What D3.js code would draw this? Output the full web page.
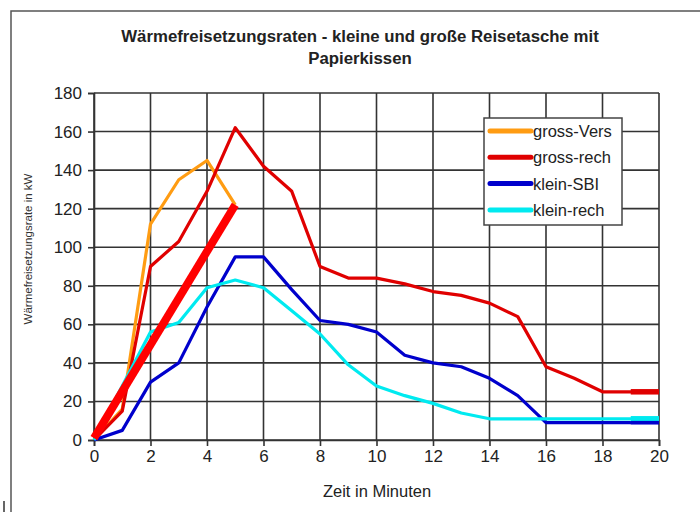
<!DOCTYPE html>
<html><head><meta charset="utf-8">
<script src="https://cdn.jsdelivr.net/npm/d3@7"></script>
<style>body{margin:0;background:#fff}svg{display:block}</style>
</head><body>
<svg id="c" width="700" height="512"></svg>
<script>
const minutes = d3.range(0, 21);
const grossVers = [0, 16, 112, 135, 145, 122];
const grossRech = [0, 15, 90, 103, 129, 162, 142, 129, 90, 84, 84, 81, 77, 75, 71, 64, 38, 32, 25, 25, 25];
const kleinSBI = [0, 5, 30, 40, 69, 95, 95, 78, 62, 60, 56, 44, 40, 38, 32, 23, 9, 9, 9, 9, 9];
const kleinRech = [0, 28, 56, 61, 79, 83, 79, 67, 55, 39, 28, 23, 19, 14, 11, 11, 11, 11, 11, 11, 11];
const trendX = [0, 5];
const trendY = [1, 122];
const xTicks = d3.range(0, 21, 2);
const yTicks = d3.range(0, 181, 20);
const seriesNames = ["gross-Vers", "gross-rech", "klein-SBI", "klein-rech"];
const seriesColors = ["#ff9c12", "#e00000", "#0000cc", "#00eaf0"];

const svg = d3.select("#c");
// outer frame
svg.append("path").attr("d", "M11,512 V11 H700").attr("fill", "none").attr("stroke", "#555").attr("stroke-width", 1.5);
svg.append("line").attr("x1", 4).attr("x2", 4).attr("y1", 501).attr("y2", 512).attr("stroke", "#333").attr("stroke-width", 1.5);

const x = d3.scaleLinear().domain([0, 20]).range([94, 659]);
const y = d3.scaleLinear().domain([0, 180]).range([440, 93]);

const grid = svg.append("g");
grid.selectAll("line.v").data(xTicks).join("line")
  .attr("x1", d => x(d)).attr("x2", d => x(d)).attr("y1", y(180)).attr("y2", y(0))
  .attr("stroke", "#333").attr("stroke-width", 1.6);
grid.selectAll("line.h").data(yTicks).join("line")
  .attr("x1", x(0)).attr("x2", x(20)).attr("y1", d => y(d)).attr("y2", d => y(d))
  .attr("stroke", "#333").attr("stroke-width", 1.6);

const font = "Liberation Sans, Arial, sans-serif";
const xAxis = svg.append("g").attr("transform", `translate(0,${y(0)})`)
  .call(d3.axisBottom(x).tickValues(xTicks).tickSize(6).tickPadding(4));
const yAxis = svg.append("g").attr("transform", `translate(${x(0)},0)`)
  .call(d3.axisLeft(y).tickValues(yTicks).tickSize(6).tickPadding(6));
[xAxis, yAxis].forEach(a => {
  a.select(".domain").attr("stroke", "#333").attr("stroke-width", 1.6);
  a.selectAll(".tick line").attr("stroke", "#333").attr("stroke-width", 1.6);
  a.selectAll(".tick text").attr("font-family", font).attr("font-size", 17).attr("fill", "#222");
});

const line = d3.line().x(d => x(d[0])).y(d => y(d[1]));
const data = [grossVers, grossRech, kleinSBI, kleinRech];
const g = svg.append("g");
data.forEach((vals, i) => {
  const pts = vals.map((v, j) => [minutes[j], v]);
  g.append("path").attr("d", line(pts)).attr("fill", "none")
    .attr("stroke", seriesColors[i]).attr("stroke-width", 3.2).attr("stroke-linejoin", "round");
});
// thicker final segments (as in the original)
[1, 3, 2].forEach(i => {
  const vals = data[i];
  const n = vals.length;
  const pts = [[minutes[n - 2], vals[n - 2]], [minutes[n - 1], vals[n - 1]]];
  g.append("path").attr("d", line(pts)).attr("fill", "none")
    .attr("stroke", seriesColors[i]).attr("stroke-width", i === 2 ? 3.5 : 5.5);
});
// thick trend line
g.append("path").attr("d", line(trendX.map((v, j) => [v, trendY[j]])))
  .attr("fill", "none").attr("stroke", "#ff0000").attr("stroke-width", 8);

// legend
const lg = svg.append("g");
lg.append("rect").attr("x", 484).attr("y", 118).attr("width", 138).attr("height", 107)
  .attr("fill", "#fff").attr("stroke", "#444").attr("stroke-width", 1.5);
seriesNames.forEach((n, i) => {
  const yy = 131 + i * 26.3;
  lg.append("line").attr("x1", 490).attr("x2", 531).attr("y1", yy).attr("y2", yy)
    .attr("stroke", seriesColors[i]).attr("stroke-width", 5).attr("stroke-linecap", "round");
  lg.append("text").attr("x", 533).attr("y", yy + 6).text(n)
    .attr("font-family", font).attr("font-size", 16.5).attr("fill", "#222");
});

// titles
svg.append("text").attr("x", 360).attr("y", 42).attr("text-anchor", "middle")
  .attr("font-family", font).attr("font-weight", "bold").attr("font-size", 16.8).attr("fill", "#222")
  .text("Wärmefreisetzungsraten - kleine und große Reisetasche mit");
svg.append("text").attr("x", 360).attr("y", 64).attr("text-anchor", "middle")
  .attr("font-family", font).attr("font-weight", "bold").attr("font-size", 16.8).attr("fill", "#222")
  .text("Papierkissen");
svg.append("text").attr("x", 377).attr("y", 497).attr("text-anchor", "middle")
  .attr("font-family", font).attr("font-size", 16.5).attr("fill", "#222").text("Zeit in Minuten");
svg.append("text").attr("transform", "translate(32,249) rotate(-90)").attr("text-anchor", "middle")
  .attr("font-family", font).attr("font-size", 11.5).attr("fill", "#333").text("Wärmefreisetzungsrate in kW");
</script>
</body></html>
